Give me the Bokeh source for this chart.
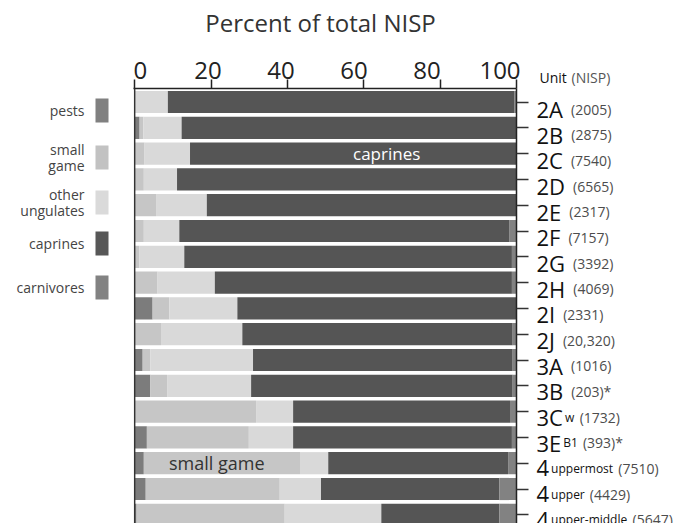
from bokeh.plotting import figure
from bokeh.models import ColumnDataSource, Range1d, LinearAxis, FixedTicker, Label, Span
from bokeh.layouts import column, row
from bokeh.embed import file_html
from bokeh.resources import INLINE

# ---------------- data ----------------
unit_main = ["2A", "2B", "2C", "2D", "2E", "2F", "2G", "2H", "2I", "2J",
             "3A", "3B", "3C", "3E", "4", "4", "4"]
unit_sub = ["", "", "", "", "", "", "", "", "", "",
            "", "", "w", "B1", "uppermost", "upper", "upper-middle"]
nisp = ["(2005)", "(2875)", "(7540)", "(6565)", "(2317)", "(7157)", "(3392)",
        "(4069)", "(2331)", "(20,320)", "(1016)", "(203)*", "(1732)", "(393)*",
        "(7510)", "(4429)", "(5647)"]

pests = [0, 1.3, 0, 0, 0, 0, 0, 0, 4.7, 0, 2.1, 4.1, 0, 3.2, 2.4, 2.9, 0.5]
small_game = [0, 1.0, 2.6, 2.4, 5.6, 2.4, 1.2, 6.0, 4.4, 6.9, 2.0, 4.4, 31.8, 26.7, 40.9, 35.1, 38.8]
other_ungulates = [8.7, 10.0, 11.9, 8.7, 13.3, 9.3, 11.8, 15.0, 17.8, 21.3, 26.9, 22.0, 9.7, 11.6, 7.4, 10.8, 25.3]
caprines = [90.8, 87.7, 85.5, 88.9, 81.1, 86.5, 85.8, 77.8, 73.1, 70.8, 68.0, 68.5, 56.8, 57.3, 47.1, 46.7, 30.9]
carnivores = [0.5, 0, 0, 0, 0, 1.8, 1.2, 1.2, 0, 1.0, 1.0, 1.0, 1.7, 1.2, 2.2, 4.5, 4.5]

categories = ["pests", "small_game", "other_ungulates", "caprines", "carnivores"]
legend_labels = ["pests", "small\ngame", "other\nungulates", "caprines", "carnivores"]
x_ticks = [0, 20, 40, 60, 80, 100]

# ---------------- style / layout ----------------
bar_colors = ["#7c7c7c", "#c6c6c6", "#d9d9d9", "#555555", "#828282"]
legend_colors = ["#808080", "#c2c2c2", "#dadada", "#575757", "#828282"]
FONT = "Open Sans"

TOTAL_W, TOTAL_H = 674, 523
TITLE_H = 38
BODY_H = TOTAL_H - TITLE_H
LEG_W, MAIN_W = 133, 401
LAB_W = TOTAL_W - LEG_W - MAIN_W
FRAME_TOP = 88
MAIN_TOP = FRAME_TOP - TITLE_H
MAIN_RIGHT = 18
FRAME_W = MAIN_W - MAIN_RIGHT
ROW = 25.8
ROW0 = 101.5
# tick-label placement as in the original figure (labels drift slightly left of ticks)
LAB_L0, LAB_PX_PER = 1.5, 3.65


def yd(py):
    return -(py - ROW0) / ROW


CW = {'0': .572, '1': .572, '2': .572, '3': .572, '4': .572, '5': .572, '6': .572,
      '7': .572, '8': .572, '9': .572, 'A': .633, 'B': .647, 'C': .631, 'D': .729,
      'E': .556, 'F': .516, 'G': .728, 'H': .738, 'I': .279, 'J': .267, '(': .296,
      ')': .296, ',': .245, '*': .551, 'u': .618, 'p': .613, 'e': .561, 'r': .408,
      'm': .937, 'o': .602, 's': .479, 't': .352, 'i': .258, 'd': .613, 'l': .258,
      'w': .813, '-': .322, ' ': .26}


def tw(s, size):
    return sum(CW.get(c, .57) for c in s) * size


def blank(fig):
    fig.outline_line_color = None
    fig.xgrid.visible = False
    fig.ygrid.visible = False
    fig.background_fill_color = "white"
    fig.border_fill_color = "white"
    fig.frame_align = False
    return fig


n = len(unit_main)
ys = [-i for i in range(n)]
source = ColumnDataSource(dict(y=ys, pests=pests, small_game=small_game,
                               other_ungulates=other_ungulates, caprines=caprines,
                               carnivores=carnivores))

# ---------------- title strip (pixel coordinates) ----------------
tf = blank(figure(width=TOTAL_W, height=TITLE_H, output_backend="svg",
                  toolbar_location=None, x_axis_location=None, y_axis_location=None,
                  x_range=Range1d(0, TOTAL_W), y_range=Range1d(TITLE_H, 0), min_border=0))
tf.add_layout(Label(x=320, y=22, text="Percent of total NISP", text_font=FONT,
                    text_font_size="24px", text_color="#333333", text_align="center",
                    text_baseline="middle"))

# ---------------- legend strip (pixel coordinates) ----------------
lf = blank(figure(width=LEG_W, height=BODY_H, output_backend="svg", toolbar_location=None,
                  x_axis_location=None, y_axis_location=None,
                  x_range=Range1d(0, LEG_W), y_range=Range1d(TOTAL_H, TITLE_H), min_border=0))
sq_tops = [98, 145, 190, 231, 275]
sq_bots = [t + 24 for t in sq_tops]
lf.quad(left=95, right=108, top=sq_tops, bottom=sq_bots, fill_color=legend_colors, line_color=None)
for k in range(len(legend_labels)):
    lf.add_layout(Label(x=84, y=(sq_tops[k] + sq_bots[k]) / 2.0, text=legend_labels[k],
                        text_font=FONT, text_font_size="14px", text_color="#444444",
                        text_align="right", text_baseline="middle", text_line_height=0.85))

# ---------------- main chart ----------------
p = blank(figure(width=MAIN_W, height=BODY_H, output_backend="svg", toolbar_location=None,
                 x_range=Range1d(-0.3, 100), y_range=Range1d(yd(TOTAL_H), yd(FRAME_TOP)),
                 x_axis_location="above", y_axis_location=None,
                 min_border_left=0, min_border_right=MAIN_RIGHT, min_border_top=MAIN_TOP,
                 min_border_bottom=0))

p.hbar_stack(categories, y="y", height=0.86, color=bar_colors, line_color=None, source=source)

# axis with the ticks (labels drawn by the next axis)
xa = p.xaxis[0]
xa.ticker = FixedTicker(ticks=x_ticks)
xa.major_tick_out = 9
xa.major_tick_in = 0
xa.minor_tick_line_color = None
xa.major_label_standoff = 0
xa.major_label_text_font_size = "1px"
xa.major_label_text_color = None
xa.axis_line_color = "#222222"
xa.axis_line_width = 1.5
xa.major_tick_line_color = "#222222"
xa.major_tick_line_width = 1.5

# axis carrying the tick labels, on a scale matching the original label placement
lab_start = -LAB_L0 / LAB_PX_PER
p.extra_x_ranges = {"labels": Range1d(lab_start, lab_start + FRAME_W / LAB_PX_PER)}
la = LinearAxis(x_range_name="labels", ticker=FixedTicker(ticks=x_ticks))
la.major_tick_out = 0
la.major_tick_in = 0
la.minor_tick_line_color = None
la.major_tick_line_color = None
la.axis_line_color = None
la.major_label_standoff = 1
la.major_label_text_font = FONT
la.major_label_text_font_size = "24px"
la.major_label_text_color = "#222222"
p.add_layout(la, "above")

ra = LinearAxis(ticker=FixedTicker(ticks=ys))
ra.major_tick_out = 12
ra.major_tick_in = 0
ra.minor_tick_line_color = None
ra.major_label_standoff = 0
ra.major_label_text_font_size = "1px"
ra.major_label_text_color = None
ra.axis_line_color = "#222222"
ra.axis_line_width = 1.5
ra.major_tick_line_color = "#333333"
ra.major_tick_line_width = 1.5
p.add_layout(ra, "right")

p.add_layout(Span(location=0, dimension="height", line_color="#333333", line_width=1.5))

p.add_layout(Label(x=66, y=ys[2], text="caprines", text_font=FONT, text_font_size="17px",
                   text_color="white", text_align="center", text_baseline="middle"))
p.add_layout(Label(x=21.5, y=ys[14], text="small game", text_font=FONT, text_font_size="18px",
                   text_color="#333333", text_align="center", text_baseline="middle"))

# ---------------- unit labels strip ----------------
lab_x0 = LEG_W + MAIN_W
lb = blank(figure(width=LAB_W, height=BODY_H, output_backend="svg", toolbar_location=None,
                  x_axis_location=None, y_axis_location=None,
                  x_range=Range1d(lab_x0, lab_x0 + LAB_W),
                  y_range=Range1d(yd(TOTAL_H), yd(TITLE_H)), min_border=0))

lb.add_layout(Label(x=539, y=yd(77), text="Unit", text_font=FONT, text_font_size="14px",
                    text_color="#111111", text_align="left", text_baseline="middle"))
lb.add_layout(Label(x=571, y=yd(77), text="(NISP)", text_font=FONT, text_font_size="14px",
                    text_color="#555555", text_align="left", text_baseline="middle"))

MAIN_SIZE, SUB_SIZE, CNT_SIZE = 22, 12, 14
x_lab = 536
for i in range(n):
    wm = tw(unit_main[i], MAIN_SIZE)
    # the lowest labels sit a little higher than their ticks, as in the original
    yo = -7 + (2.0 * i / (n - 1))
    lb.add_layout(Label(x=x_lab, y=ys[i], y_offset=yo, text=unit_main[i], text_font=FONT,
                        text_font_size=f"{MAIN_SIZE}px", text_color="#111111",
                        text_align="left", text_baseline="alphabetic"))
    if unit_sub[i]:
        lb.add_layout(Label(x=x_lab, y=ys[i], x_offset=wm + 2, y_offset=yo, text=unit_sub[i],
                            text_font=FONT, text_font_size=f"{SUB_SIZE}px", text_color="#111111",
                            text_align="left", text_baseline="alphabetic"))
        off = wm + 2 + tw(unit_sub[i], SUB_SIZE) + 5
    else:
        off = wm + 8
    lb.add_layout(Label(x=x_lab, y=ys[i], x_offset=off, y_offset=yo, text=nisp[i],
                        text_font=FONT, text_font_size=f"{CNT_SIZE}px", text_color="#4d4d4d",
                        text_align="left", text_baseline="alphabetic"))

layout = column(tf, row(lf, p, lb, spacing=0), spacing=0)
open("out.html", "w").write(file_html(layout, INLINE))
